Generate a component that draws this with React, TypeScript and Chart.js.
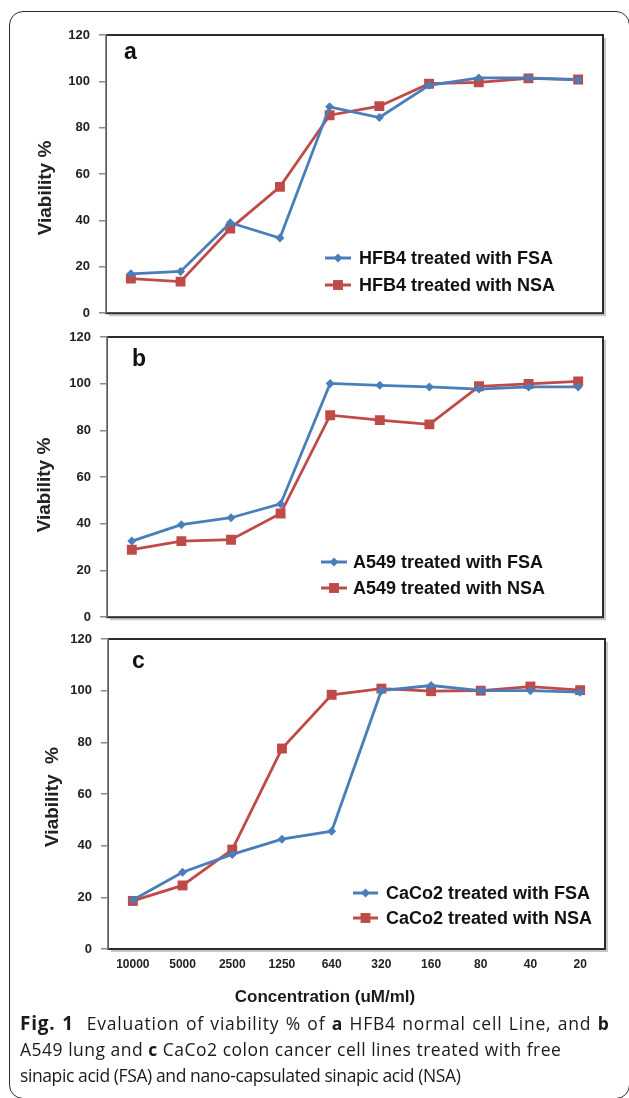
import React, { useEffect, useRef } from "react";
import { Chart, registerables } from "chart.js";

Chart.register(...registerables);

// ---------- data ----------
const categories = ["10000", "5000", "2500", "1250", "640", "320", "160", "80", "40", "20"];
const panelLetters = ["a", "b", "c"];
const yAxisTitles = ["Viability %", "Viability %", "Viability  %"];

const hfb4FSA = [17, 18, 39, 32.4, 89, 84.4, 98.3, 101.5, 101.5, 100.6];
const hfb4NSA = [14.9, 13.6, 36.5, 54.5, 85.4, 89.3, 99, 99.6, 101.3, 100.8];
const a549FSA = [32.6, 39.6, 42.6, 48.5, 100.1, 99.3, 98.6, 97.7, 98.6, 98.6];
const a549NSA = [28.9, 32.6, 33.2, 44.4, 86.5, 84.4, 82.6, 98.9, 99.9, 101];
const caco2FSA = [19, 29.7, 36.6, 42.5, 45.6, 100, 102, 100, 100, 99.4];
const caco2NSA = [18.6, 24.6, 38.5, 77.6, 98.4, 100.8, 99.8, 100, 101.6, 100.2];

const hfb4Labels = ["HFB4 treated with FSA", "HFB4 treated with NSA"];
const a549Labels = ["A549 treated with FSA", "A549 treated with NSA"];
const caco2Labels = ["CaCo2 treated with FSA", "CaCo2 treated with NSA"];

const yMin = 0;
const yMax = 120;
const yStep = 20;

const xAxisTitle = "Concentration (uM/ml)";

// ---------- styling / layout ----------
const BLUE = "#4a7ebb";
const RED = "#be4b48";
const AXFONT = '"Liberation Sans", Arial, sans-serif';

type PanelLayout = {
  top: number;
  height: number;
  padTop: number;
  padBottom: number;
  yWidth: number;
  padRight: number;
  titleX: number;
  titleY: number;
  showX: boolean;
  legendX0: number;
  legendX1: number;
  legendTextX: number;
  legendRows: number[];
  letterX: number;
  letterY: number;
};

const layouts: PanelLayout[] = [
  { top: 15, height: 315, padTop: 20, padBottom: 12, yWidth: 106, padRight: 26, titleX: 46, titleY: 188, showX: false,
    legendX0: 325, legendX1: 351, legendTextX: 359, legendRows: [258, 285], letterX: 124, letterY: 59 },
  { top: 317, height: 317, padTop: 20, padBottom: 12, yWidth: 107, padRight: 26, titleX: 45, titleY: 485, showX: false,
    legendX0: 321, legendX1: 347, legendTextX: 353, legendRows: [562, 588], letterX: 132, letterY: 366 },
  { top: 619, height: 372, padTop: 20, padBottom: 12, yWidth: 108, padRight: 24, titleX: 53, titleY: 797, showX: true,
    legendX0: 353, legendX1: 378, legendTextX: 386, legendRows: [893, 918], letterX: 132, letterY: 668 },
];

const decoPlugin = {
  id: "panelDeco",
  beforeDraw(chart: any) {
    const { ctx, chartArea: ca } = chart;
    ctx.save();
    ctx.strokeStyle = "rgba(0,0,0,0.22)";
    ctx.lineWidth = 2;
    ctx.beginPath();
    ctx.moveTo(ca.right + 2, ca.top + 3);
    ctx.lineTo(ca.right + 2, ca.bottom + 2);
    ctx.lineTo(ca.left + 3, ca.bottom + 2);
    ctx.stroke();
    ctx.strokeStyle = "#2b2b2b";
    ctx.lineWidth = 2;
    ctx.strokeRect(ca.left, ca.top, ca.right - ca.left, ca.bottom - ca.top);
    ctx.restore();
  },
  afterDraw(chart: any, _args: any, opts: any) {
    const { ctx } = chart;
    const L: PanelLayout = opts.layout;
    ctx.save();
    // y axis title
    ctx.save();
    ctx.translate(L.titleX, L.titleY - L.top);
    ctx.rotate(-Math.PI / 2);
    ctx.fillStyle = "#222";
    ctx.font = `bold 19px ${AXFONT}`;
    ctx.textAlign = "center";
    ctx.textBaseline = "middle";
    ctx.fillText(opts.yTitle, 0, 0);
    ctx.restore();
    // panel letter
    ctx.fillStyle = "#111";
    ctx.font = `bold 23px ${AXFONT}`;
    ctx.textAlign = "left";
    ctx.textBaseline = "alphabetic";
    ctx.fillText(opts.letter, L.letterX, L.letterY - L.top);
    // legend
    chart.data.datasets.forEach((ds: any, i: number) => {
      const y = L.legendRows[i] - L.top;
      ctx.strokeStyle = ds.borderColor;
      ctx.lineWidth = 3;
      ctx.beginPath();
      ctx.moveTo(L.legendX0, y);
      ctx.lineTo(L.legendX1, y);
      ctx.stroke();
      const cx = (L.legendX0 + L.legendX1) / 2;
      ctx.fillStyle = ds.pointBackgroundColor;
      ctx.beginPath();
      if (ds.pointStyle === "rectRot") {
        const r = ds.pointRadius;
        ctx.moveTo(cx - r, y);
        ctx.lineTo(cx, y - r);
        ctx.lineTo(cx + r, y);
        ctx.lineTo(cx, y + r);
        ctx.closePath();
      } else {
        const s = Math.SQRT1_2 * ds.pointRadius;
        ctx.rect(cx - s, y - s, 2 * s, 2 * s);
      }
      ctx.fill();
      ctx.fillStyle = "#111";
      ctx.font = `bold 18px ${AXFONT}`;
      ctx.textAlign = "left";
      ctx.textBaseline = "middle";
      ctx.fillText(ds.label, L.legendTextX, y + 1);
    });
    ctx.restore();
  },
};

function Panel({ idx, labels, fsa, nsa }: { idx: number; labels: string[]; fsa: number[]; nsa: number[] }) {
  const ref = useRef<HTMLCanvasElement | null>(null);
  const L = layouts[idx];
  useEffect(() => {
    if (!ref.current) return;
    const xScale: any = {
      type: "category",
      offset: true,
      display: L.showX,
      grid: { display: false, drawTicks: false },
      border: { display: false },
      ticks: {
        font: { family: AXFONT, size: 12, weight: "bold" },
        color: "#222",
        padding: 8,
        maxRotation: 0,
        autoSkip: false,
      },
    };
    if (L.showX) {
      xScale.afterFit = (s: any) => {
        s.height = 30;
      };
    }
    const chart = new Chart(ref.current, {
      type: "line",
      data: {
        labels: categories,
        datasets: [
          {
            label: labels[0],
            data: fsa,
            borderColor: BLUE,
            backgroundColor: BLUE,
            pointBackgroundColor: BLUE,
            pointBorderWidth: 0,
            pointStyle: "rectRot",
            pointRadius: 4.5,
            borderWidth: 2.8,
            tension: 0,
          } as any,
          {
            label: labels[1],
            data: nsa,
            borderColor: RED,
            backgroundColor: RED,
            pointBackgroundColor: RED,
            pointBorderWidth: 0,
            pointStyle: "rect",
            pointRadius: 7,
            borderWidth: 2.8,
            tension: 0,
          } as any,
        ],
      },
      options: {
        animation: false,
        responsive: false,
        events: [],
        layout: { padding: { top: L.padTop, bottom: L.padBottom, left: 0, right: L.padRight } },
        plugins: {
          legend: { display: false },
          tooltip: { enabled: false },
          panelDeco: { layout: L, letter: panelLetters[idx], yTitle: yAxisTitles[idx] },
        } as any,
        scales: {
          x: xScale,
          y: {
            min: yMin,
            max: yMax,
            ticks: {
              stepSize: yStep,
              font: { family: AXFONT, size: 13, weight: "bold" },
              color: "#222",
              padding: 9,
            },
            grid: { display: true, drawOnChartArea: false, drawTicks: true, tickLength: 7, color: "#8a8a8a", lineWidth: 1.5 },
            border: { display: true, color: "#8a8a8a", width: 1.5 },
            title: { display: false, text: yAxisTitles[idx] },
            afterFit: (s: any) => {
              s.width = L.yWidth;
            },
          },
        } as any,
      },
      plugins: [decoPlugin as any],
    });
    return () => chart.destroy();
  }, []);
  return (
    <canvas
      ref={ref}
      width={629}
      height={L.height}
      style={{ position: "absolute", left: 0, top: L.top, width: 629, height: L.height }}
    />
  );
}

export default function App() {
  const capFont = '"Open Sans", "Noto Sans", sans-serif';
  return (
    <div style={{ position: "fixed", left: 0, top: 0, width: 629, height: 1098, overflow: "hidden", background: "#fff" }}>
      <div
        style={{
          position: "absolute",
          left: 9,
          top: 11,
          width: 621,
          height: 1088,
          border: "1.5px solid #2a2a2a",
          borderRadius: 14,
          boxSizing: "border-box",
        }}
      />
      <Panel idx={0} labels={hfb4Labels} fsa={hfb4FSA} nsa={hfb4NSA} />
      <Panel idx={1} labels={a549Labels} fsa={a549FSA} nsa={a549NSA} />
      <Panel idx={2} labels={caco2Labels} fsa={caco2FSA} nsa={caco2NSA} />
      <div
        style={{
          position: "absolute",
          left: 0,
          width: 650,
          top: 987,
          lineHeight: "20px",
          textAlign: "center",
          fontFamily: AXFONT,
          fontWeight: "bold",
          fontSize: 17,
          color: "#1a1a1a",
        }}
      >
        {xAxisTitle}
      </div>
      <div
        style={{
          position: "absolute",
          left: 20,
          top: 1010,
          width: 609,
          fontFamily: capFont,
          fontSize: 17.5,
          lineHeight: "26px",
          color: "#1a1a1a",
          whiteSpace: "nowrap",
        }}
      >
        <div style={{ letterSpacing: 0.8, wordSpacing: 1 }}>
          <b style={{ fontSize: 19 }}>Fig. 1</b>&nbsp; Evaluation of viability % of <b>a</b> HFB4 normal cell Line, and <b>b</b>
        </div>
        <div style={{ letterSpacing: 0.5 }}>
          A549 lung and <b>c</b> CaCo2 colon cancer cell lines treated with free
        </div>
        <div style={{ letterSpacing: -0.4 }}>sinapic acid (FSA) and nano-capsulated sinapic acid (NSA)</div>
      </div>
    </div>
  );
}
